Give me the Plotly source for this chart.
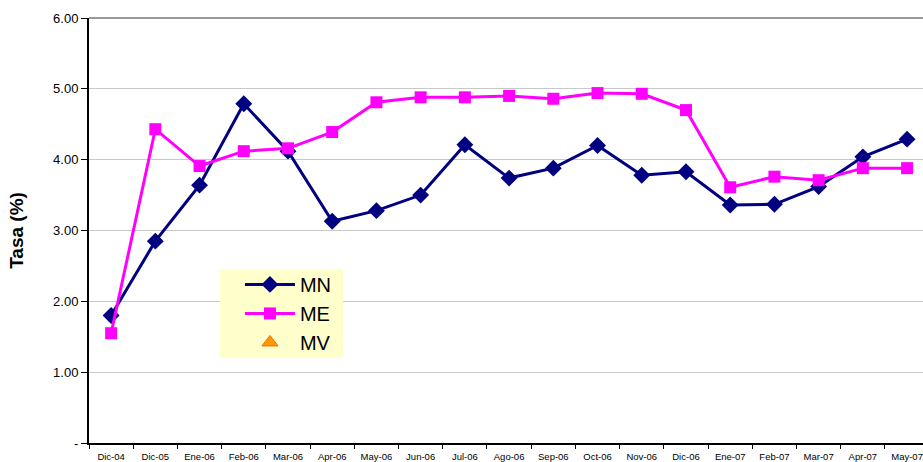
import plotly.graph_objects as go

# categorías (meses)
meses = ["Dic-04", "Dic-05", "Ene-06", "Feb-06", "Mar-06", "Apr-06", "May-06",
         "Jun-06", "Jul-06", "Ago-06", "Sep-06", "Oct-06", "Nov-06", "Dic-06",
         "Ene-07", "Feb-07", "Mar-07", "Apr-07", "May-07"]

# tasas en %
mn = [1.80, 2.85, 3.64, 4.79, 4.12, 3.13, 3.28, 3.50, 4.21, 3.74, 3.88, 4.20,
      3.78, 3.83, 3.36, 3.37, 3.62, 4.04, 4.29]
me = [1.55, 4.43, 3.91, 4.12, 4.16, 4.39, 4.81, 4.88, 4.88, 4.90, 4.86, 4.94,
      4.93, 4.70, 3.61, 3.76, 3.71, 3.88, 3.88]
mv = [None] * len(meses)

y_ticks = [0, 1, 2, 3, 4, 5, 6]
y_labels = ["-", "1.00", "2.00", "3.00", "4.00", "5.00", "6.00"]

fig = go.Figure()

fig.add_trace(go.Scatter(
    x=meses, y=mn, name="MN", mode="lines+markers",
    line=dict(color="#000080", width=3),
    marker=dict(symbol="diamond", size=13, color="#000080"),
))
fig.add_trace(go.Scatter(
    x=meses, y=me, name="ME", mode="lines+markers",
    line=dict(color="#FF00FF", width=3),
    marker=dict(symbol="square", size=12, color="#FF00FF"),
))
fig.add_trace(go.Scatter(
    x=meses, y=mv, name="MV", mode="markers",
    marker=dict(symbol="triangle-up", size=14, color="#FF9900",
                line=dict(color="#FF6600", width=1)),
))

fig.update_layout(
    width=923, height=462,
    margin=dict(l=89, r=0, t=18, b=19),
    paper_bgcolor="white", plot_bgcolor="white",
    font=dict(family="Arial, Liberation Sans, sans-serif", color="black"),
    showlegend=True,
    legend=dict(
        x=0.181, y=0.419, xanchor="left", yanchor="top",
        bgcolor="rgba(0,0,0,0)", borderwidth=0,
        font=dict(size=20, color="black"),
        itemwidth=50, tracegroupgap=0,
    ),
    xaxis=dict(
        type="category", range=[-0.5, 18.36], automargin=False,
        showline=True, linecolor="black", linewidth=2,
        ticks="outside", ticklen=4, tickcolor="black",
        tickson="boundaries", ticklabelstandoff=4,
        tickfont=dict(size=9.5), showgrid=False, zeroline=False,
    ),
    yaxis=dict(
        range=[0, 6], tickvals=y_ticks, ticktext=y_labels, automargin=False,
        showline=True, linecolor="black", linewidth=2,
        ticks="outside", ticklen=6, tickcolor="black",
        tickfont=dict(size=13),
        showgrid=True, gridcolor="#C8C8C8", gridwidth=1,
        zeroline=False,
        title=dict(text="<b>Tasa (%)</b>", font=dict(size=19), standoff=24),
    ),
)

# caja amarilla de la leyenda (tapa la grilla)
fig.add_shape(type="rect", xref="paper", yref="paper",
              x0=0.157, x1=0.3046, y0=0.2, y1=0.409,
              fillcolor="#FFFFCC", line=dict(width=0), layer="above")

# borde superior gris del área de trazado
fig.add_shape(type="line", xref="paper", yref="paper", x0=0, x1=1, y0=1, y1=1,
              line=dict(color="#999999", width=2))

# sin margen en el body para que la figura ocupe toda la ventana
fig.write_html("out.html",
               config={"displayModeBar": False},
               post_script="document.body.style.margin='0';"
                           "document.body.style.overflow='hidden';")
